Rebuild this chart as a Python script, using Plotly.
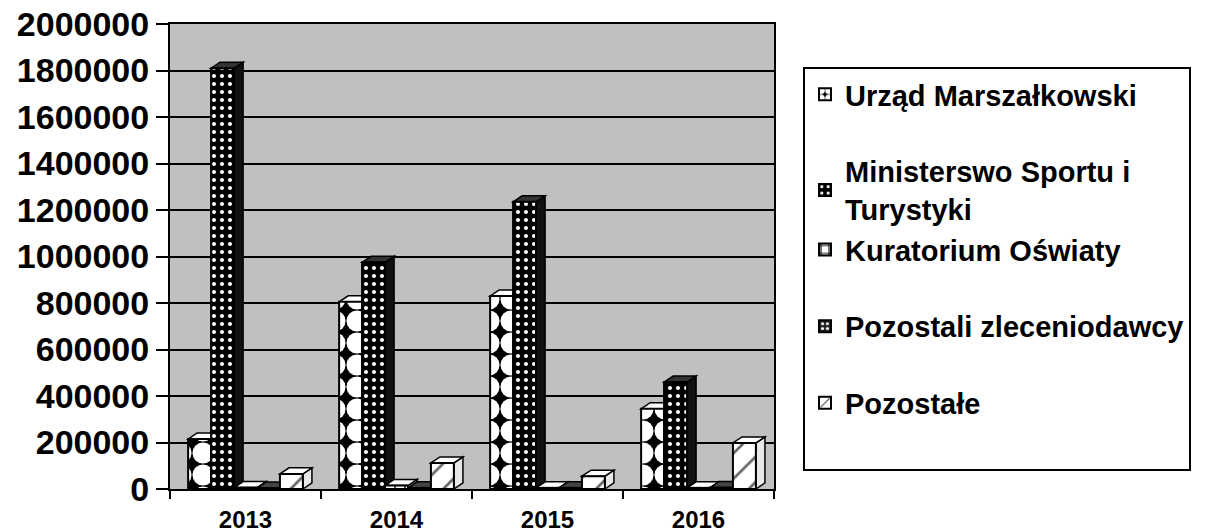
import plotly.graph_objects as go

years = ["2013", "2014", "2015", "2016"]
series_names = [
    "Urząd Marszałkowski",
    "Ministerswo Sportu i<br>Turystyki",
    "Kuratorium Oświaty",
    "Pozostali zleceniodawcy",
    "Pozostałe",
]
urzad = [215000, 805000, 830000, 345000]
ministerstwo = [1810000, 975000, 1235000, 460000]
kuratorium = [6000, 15000, 5000, 5000]
pozostali_zlec = [4000, 5000, 5000, 6000]
pozostale = [65000, 112000, 55000, 198000]
y_ticks = list(range(0, 2000001, 200000))

values = [urzad, ministerstwo, kuratorium, pozostali_zlec, pozostale]
patterns = [
    dict(shape=".", bgcolor="black", fgcolor="white", size=22, solidity=0.72, fgopacity=1),
    dict(shape=".", bgcolor="black", fgcolor="white", size=8, solidity=0.2, fgopacity=1),
    dict(shape="+", bgcolor="white", fgcolor="black", size=10, solidity=0.25, fgopacity=1),
    dict(shape=".", bgcolor="#222222", fgcolor="white", size=6, solidity=0.3, fgopacity=1),
    dict(shape="/", bgcolor="white", fgcolor="#666666", size=18, solidity=0.15, fgopacity=1),
]
cap_colors = ["white", "#333333", "white", "#444444", "white"]
side_colors = ["#555555", "#111111", "#dddddd", "#222222", "#e8e8e8"]
groups = ["g0", "g1", "g1", "g2", "g3"]

BARGAP = 0.24
n_series = len(values)
bar_w = (1 - BARGAP) / n_series
DEPTH_X = 0.06        # depth of the 3D effect, in category units
DEPTH_Y = 26000       # depth of the 3D effect, in value units

fig = go.Figure()
for name, vals, pat, grp in zip(series_names, values, patterns, groups):
    fig.add_trace(go.Bar(
        x=years, y=vals, name=name,
        legendgroup=grp,
        marker=dict(color=pat["bgcolor"], pattern=pat,
                    line=dict(color="black", width=2)),
    ))

# invisible legend spacer so the legend box keeps some room below the last item
fig.add_trace(go.Scatter(
    x=[None], y=[None], mode="markers", name="\u00a0", legendgroup="g3",
    marker=dict(color="white", opacity=0), hoverinfo="skip",
))

# 3D look: right side faces first, then top caps (drawn between grid and bars)
sides, caps = [], []
for i, vals in enumerate(values):
    for j, v in enumerate(vals):
        x0 = j - (1 - BARGAP) / 2 + i * bar_w
        x1 = x0 + bar_w
        sides.append(dict(
            type="path", xref="x", yref="y", layer="between",
            path=f"M {x1},0 L {x1 + DEPTH_X},{DEPTH_Y} L {x1 + DEPTH_X},{v + DEPTH_Y} L {x1},{v} Z",
            fillcolor=side_colors[i], line=dict(color="black", width=1.5),
        ))
        caps.append(dict(
            type="path", xref="x", yref="y", layer="between",
            path=f"M {x0},{v} L {x0 + DEPTH_X},{v + DEPTH_Y} L {x1 + DEPTH_X},{v + DEPTH_Y} L {x1},{v} Z",
            fillcolor=cap_colors[i], line=dict(color="black", width=1.5),
        ))
fig.update_layout(shapes=sides + caps)

fig.update_layout(
    width=1208, height=532,
    margin=dict(l=170, r=434, t=24, b=43),
    paper_bgcolor="white",
    plot_bgcolor="#C0C0C0",
    barmode="group",
    bargap=BARGAP,
    bargroupgap=0,
    font=dict(family="Liberation Sans, Arial, sans-serif", color="black"),
    showlegend=True,
    legend=dict(
        x=(803 - 170) / 604, y=(489 - 67) / 465, xanchor="left", yanchor="top",
        bordercolor="black", borderwidth=2, bgcolor="white",
        font=dict(size=29, family="Liberation Sans, Arial, sans-serif", weight="bold"),
        traceorder="grouped", tracegroupgap=36,
    ),
    xaxis=dict(
        automargin=False, range=[-0.5, 3.5],
        showgrid=False, ticks="outside", tickson="boundaries", ticklen=8,
        tickwidth=2, tickcolor="black", ticklabelstandoff=8,
        tickfont=dict(size=24, weight="bold"),
        showline=True, linecolor="black", linewidth=2, mirror=True,
    ),
    yaxis=dict(
        automargin=False,
        range=[0, 2000000], tickvals=y_ticks, ticktext=[str(v) for v in y_ticks],
        showgrid=True, gridcolor="black", gridwidth=2,
        ticks="outside", ticklen=12, tickwidth=2, tickcolor="black",
        tickfont=dict(size=34, weight="bold"),
        showline=True, linecolor="black", linewidth=2, mirror=True,
        zeroline=False,
    ),
)

fig.write_html(
    "out.html",
    config={"displayModeBar": False},
    post_script="document.body.style.margin='0px';document.body.style.overflow='hidden';",
)
